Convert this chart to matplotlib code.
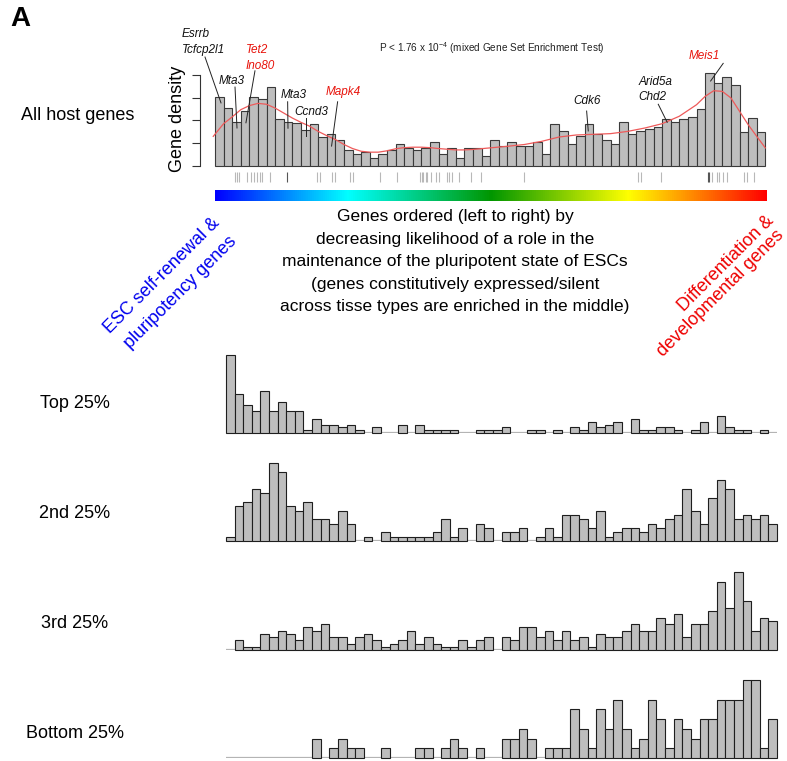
import numpy as np
import matplotlib
matplotlib.use("Agg")
import matplotlib.pyplot as plt
from matplotlib.colors import LinearSegmentedColormap

plt.rcParams["font.family"] = ["Liberation Sans", "DejaVu Sans"]
plt.rcParams["mathtext.fontset"] = "custom"
plt.rcParams["mathtext.rm"] = "Liberation Sans"
plt.rcParams["mathtext.default"] = "rm"

W, H = 787, 761

# all host genes, 64 bins (density in tick units)
all_density = [3.03, 2.53, 1.91, 2.43, 3.03, 2.96, 3.47, 2.07, 1.91, 1.90,
               1.56, 1.82, 1.24, 1.38, 1.12, 0.69, 0.51, 0.60, 0.34, 0.51,
               0.69, 0.94, 0.78, 0.69, 0.78, 1.03, 0.51, 0.78, 0.34, 0.78,
               0.78, 0.43, 1.12, 0.85, 1.03, 0.88, 0.88, 1.03, 0.51, 1.82,
               1.54, 0.96, 1.31, 1.82, 1.38, 1.12, 0.96, 1.91, 1.38, 1.54,
               1.63, 1.72, 2.07, 1.91, 2.07, 2.16, 2.51, 4.09, 3.65, 3.91,
               3.56, 1.47, 2.09, 1.47]

# smoothed density (red line)
curve_x = [-0.2, 1, 2, 3, 4, 5, 6, 7, 8, 9, 10, 11, 12, 13, 14, 15, 16, 17,
           18, 19, 20, 21, 22, 23, 24, 25, 26, 27, 28, 29, 30, 32, 34, 36,
           38, 40, 42, 44, 46, 48, 50, 52, 54, 56, 57, 58, 59, 60, 61, 62,
           63, 64]
curve_y = [1.29, 1.85, 2.15, 2.47, 2.65, 2.75, 2.71, 2.54, 2.32, 2.10, 1.91,
           1.74, 1.51, 1.32, 1.15, 0.93, 0.75, 0.63, 0.59, 0.59, 0.65, 0.74,
           0.79, 0.81, 0.81, 0.79, 0.75, 0.72, 0.69, 0.69, 0.71, 0.78, 0.85,
           0.93, 1.07, 1.26, 1.35, 1.38, 1.41, 1.51, 1.66, 1.85, 2.18, 2.69,
           3.06, 3.31, 3.28, 2.99, 2.40, 1.81, 1.29, 0.78]

# gene positions (rug)
rug_light = [2.29, 2.52, 2.79, 3.69, 4.19, 4.5, 4.85, 5.23, 5.5, 6.4, 11.86,
             12.24, 13.64, 13.99, 15.66, 16.01, 19.19, 21.2, 23.84, 24.03,
             24.22, 24.5, 24.65, 25.12, 25.66, 26.08, 26.94, 27.24, 27.59,
             28.41, 29.73, 30.93, 35.97, 49.15, 49.53, 51.9, 57.76, 58.34,
             58.64, 59.1, 59.5, 61.55, 61.83, 62.71]
rug_dark = [8.37, 57.29, 57.48]

# quartile panels, counts per bin
top25 = [28, 14, 10, 8, 15, 8, 11, 8, 8, 1, 5, 3, 3, 2, 3, 1, 0, 2, 0, 0,
         3, 0, 3, 1, 1, 1, 1, 0, 0, 1, 1, 1, 2, 0, 0, 1, 1, 0, 1, 0,
         2, 1, 4, 2, 3, 4, 0, 5, 1, 1, 2, 2, 1, 0, 1, 4, 0, 6, 2, 1,
         1, 0, 1, 0]
second25 = [1, 8, 9, 12, 11, 18, 16, 8, 7, 9, 5, 5, 4, 7, 4, 0, 1, 0, 2, 1,
            1, 1, 1, 1, 2, 5, 1, 3, 0, 4, 3, 0, 2, 2, 3, 0, 1, 3, 1, 6,
            6, 5, 3, 7, 1, 2, 3, 3, 2, 4, 3, 5, 6, 12, 7, 4, 10, 14, 12, 5,
            6, 5, 6, 4]
third25 = [0, 3, 1, 1, 5, 4, 6, 5, 3, 7, 6, 8, 4, 4, 2, 4, 5, 3, 1, 2,
           3, 6, 2, 4, 2, 1, 1, 3, 1, 3, 4, 0, 4, 3, 7, 7, 4, 6, 3, 6,
           3, 4, 1, 5, 4, 4, 6, 8, 6, 6, 10, 8, 11, 4, 8, 8, 12, 21, 13, 24,
           15, 6, 10, 9]
bottom25 = [0, 0, 0, 0, 0, 0, 0, 0, 0, 0, 2, 0, 1, 2, 1, 1, 0, 0, 1, 0,
            0, 0, 1, 1, 0, 1, 2, 1, 0, 1, 0, 0, 2, 2, 3, 2, 0, 1, 1, 1,
            5, 3, 1, 5, 3, 6, 3, 1, 2, 6, 4, 1, 4, 3, 2, 4, 4, 6, 6, 6,
            8, 8, 1, 4]
panel_names = ["Top 25%", "2nd 25%", "3rd 25%", "Bottom 25%"]

gene_names = [["Esrrb", "Tcfcp2l1"], ["Mta3"], ["Tet2", "Ino80"], ["Mta3"],
              ["Ccnd3"], ["Mapk4"], ["Cdk6"], ["Arid5a", "Chd2"], ["Meis1"]]
gene_red = [False, False, True, False, False, True, False, False, True]

center_lines = ["Genes ordered (left to right) by",
                "decreasing likelihood of a role in the",
                "maintenance of the pluripotent state of ESCs",
                "(genes constitutively expressed/silent",
                "across tisse types are enriched in the middle)"]

# label placement (data units of the top axes)
label_pos = [(-3.87, 5.82, "left"), (1.94, 3.72, "center"), (3.6, 5.11, "left"),
             (9.1, 3.11, "center"), (11.24, 2.37, "center"), (14.92, 3.25, "center"),
             (43.26, 2.85, "center"), (49.22, 3.71, "left"), (56.88, 4.84, "center")]
leaders = [((-1.16, 4.80), (0.70, 2.77)), ((2.33, 3.47), (2.56, 1.66)),
           ((4.65, 4.19), (3.6, 1.89)), ((8.45, 2.82), (8.49, 1.65)),
           ((10.54, 2.09), (10.54, 1.31)), ((14.26, 2.82), (13.56, 0.86)),
           ((43.22, 2.41), (43.41, 1.53)), ((51.55, 2.71), (52.59, 1.91)),
           ((59.1, 4.52), (57.64, 3.74))]


def px(x0, y0, x1, y1):
    return [x0 / W, 1 - y1 / H, (x1 - x0) / W, (y1 - y0) / H]


fig = plt.figure(figsize=(W / 100, H / 100), dpi=100)

BAR = "#bebebe"
RED = "#e8140c"

# ---- all host genes
ax = fig.add_axes(px(212.4, 70.6, 767.9, 165.5))
nb = len(all_density)
ax.bar(np.arange(nb), all_density, width=1, align="edge", color=BAR,
       edgecolor="#3a3a3a", lw=0.8, clip_on=False)
ax.plot(curve_x, curve_y, color="#ee5a5a", lw=0.9)
ax.vlines(rug_light, -0.73, -0.29, color="#b8b8b8", lw=0.8, clip_on=False)
ax.vlines(rug_dark, -0.73, -0.29, color="#555555", lw=0.8, clip_on=False)
ax.set_xlim(-0.3, nb + 0.3)
ax.set_ylim(0, 4.2)
for s in ["top", "right", "bottom"]:
    ax.spines[s].set_visible(False)
ax.spines["left"].set_position(("outward", 9))
ax.spines["left"].set_bounds(0, 4)
ax.spines["left"].set_color("#333333")
ax.set_xticks([])
ax.set_yticks([0, 1, 2, 3, 4])
ax.set_yticklabels([])
ax.tick_params(axis="y", length=6, width=0.8, color="#333333")

step = 0.69
for names, red, (tx, ty, ha), (p0, p1) in zip(gene_names, gene_red, label_pos, leaders):
    for i, nm in enumerate(names):
        ax.text(tx, ty - i * step, nm, fontsize=8.5, style="italic", ha=ha,
                va="center", color=RED if red else "#111111", clip_on=False)
    ax.plot([p0[0], p1[0]], [p0[1], p1[1]], color="#222222", lw=0.7, clip_on=False)

fig.text(492 / W, 1 - 48 / H,
         r"P < 1.76 x 10$^{-4}$ (mixed Gene Set Enrichment Test)",
         fontsize=7.2, ha="center", va="center", color="#222222")
fig.text(178 / W, 1 - 119 / H, "Gene density", fontsize=13, rotation=90,
         ha="center", va="center")

# ---- colour bar
cmap = LinearSegmentedColormap.from_list(
    "esc", [(0, "#0000ff"), (0.24, "#00ffff"), (0.5, "#009600"),
            (0.75, "#ffff00"), (1.0, "#ff0000")])
cax = fig.add_axes(px(215, 190, 767, 201))
cax.imshow(np.linspace(0, 1, 512)[None, :], aspect="auto", cmap=cmap)
cax.axis("off")

for i, line in enumerate(center_lines):
    fig.text(455 / W, 1 - (216.7 + 22.5 * i) / H, line, fontsize=12.5,
             ha="center", va="center")

side = dict(fontsize=13, rotation=45, ha="center", va="center",
            rotation_mode="anchor")
fig.text(162 / W, 1 - 276 / H, "ESC self-renewal &", color="#0000ee", **side)
fig.text(181 / W, 1 - 292 / H, "pluripotency genes", color="#0000ee", **side)
fig.text(726 / W, 1 - 264 / H, "Differentiation &", color="#ee0000", **side)
fig.text(721 / W, 1 - 293 / H, "developmental genes", color="#ee0000", **side)

fig.text(78 / W, 1 - 116 / H, "All host genes", fontsize=13, ha="center", va="center")
fig.text(20 / W, 1 - 19 / H, "A", fontsize=20, fontweight="bold", ha="center", va="center")

# ---- quartile panels
bases = [433, 541, 650, 758]
label_y = [403, 514, 623, 733]
for counts, name, yb, ly in zip([top25, second25, third25, bottom25],
                                panel_names, bases, label_y):
    pa = fig.add_axes(px(226, yb - 78, 777, yb))
    pa.axhline(0, color="#b4b4b4", lw=1.6, zorder=1)
    cnt = np.array(counts)
    idx = np.nonzero(cnt)[0]
    pa.bar(idx, cnt[idx], width=1, align="edge", color=BAR,
           edgecolor="#1e1e1e", lw=0.8, zorder=2, clip_on=False)
    pa.set_xlim(0, len(counts))
    pa.set_ylim(0, cnt.max())
    pa.axis("off")
    fig.text(75 / W, 1 - ly / H, name, fontsize=13, ha="center", va="center")

fig.savefig("out.png", dpi=100)
